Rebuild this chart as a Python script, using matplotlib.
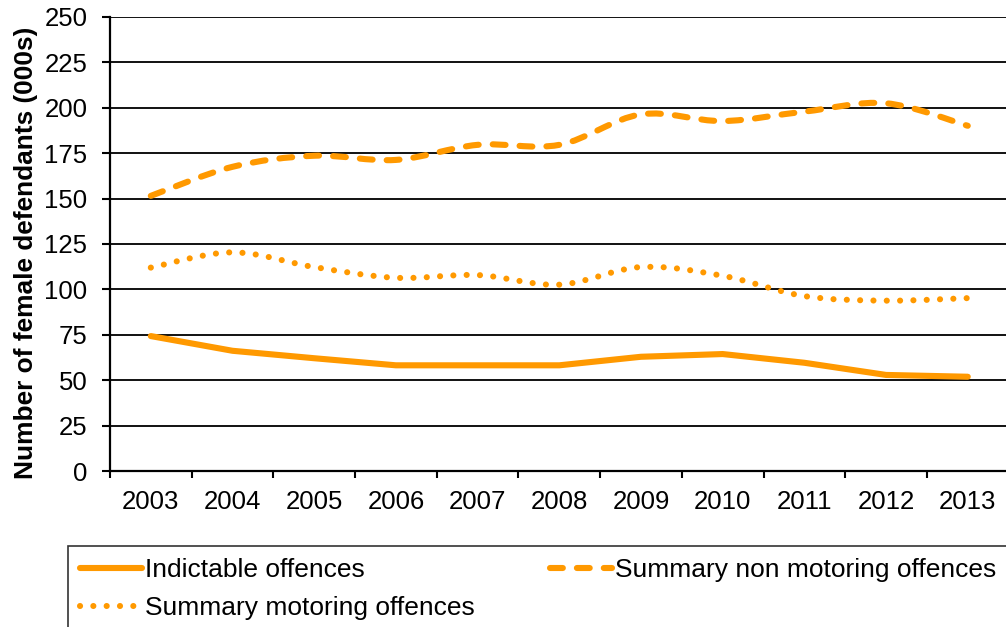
import matplotlib
matplotlib.use("Agg")
import matplotlib.pyplot as plt
import numpy as np
from matplotlib.path import Path
from matplotlib.patches import PathPatch
from matplotlib.lines import Line2D

plt.rcParams['font.family'] = ['Liberation Sans', 'DejaVu Sans']

years = ['2003', '2004', '2005', '2006', '2007', '2008', '2009', '2010', '2011', '2012', '2013']
indictable = [74.3, 66.2, 62.1, 58.2, 58.2, 58.2, 62.9, 64.4, 59.6, 52.9, 51.9]
non_motoring = [151.5, 167.5, 173.6, 171.3, 179.6, 179.6, 196.4, 192.7, 197.9, 202.5, 190.1]
motoring = [112.0, 120.4, 112.3, 106.4, 107.9, 102.6, 112.3, 107.5, 96.3, 93.8, 95.2]
yticks = [0, 25, 50, 75, 100, 125, 150, 175, 200, 225, 250]

orange = '#FF9900'
lw = 4.4


def smooth_path(xs, ys):
    # Excel-style smoothed line: cubic bezier through the points
    pts = np.column_stack([xs, ys]).astype(float)
    n = len(pts)
    verts = [pts[0]]
    codes = [Path.MOVETO]
    for i in range(n - 1):
        p0 = pts[i - 1] if i > 0 else pts[i]
        p1 = pts[i]
        p2 = pts[i + 1]
        p3 = pts[i + 2] if i + 2 < n else pts[i + 1]
        c1 = p1 + (p2 - p0) / 6.0
        c2 = p2 - (p3 - p1) / 6.0
        verts += [c1, c2, p2]
        codes += [Path.CURVE4] * 3
    return Path(verts, codes)


x = np.arange(len(years))

fig = plt.figure(figsize=(10.06, 6.27), dpi=100)
ax = fig.add_axes([0.1093, 0.2488, 0.8933, 0.7241])

for v in yticks:
    ax.axhline(v, color='#111111', lw=1.4, zorder=1)

ax.plot(x, indictable, color=orange, lw=lw, solid_capstyle='round',
        solid_joinstyle='round', zorder=3)
ax.add_patch(PathPatch(smooth_path(x, non_motoring), fill=False, edgecolor=orange,
                       lw=lw, linestyle=(0, (2.1, 2.3)), capstyle='round', zorder=3))
ax.add_patch(PathPatch(smooth_path(x, motoring), fill=False, edgecolor=orange,
                       lw=lw, linestyle=(0, (0.01, 2.17)), capstyle='round', zorder=3))

ax.set_xlim(-0.5, len(years) - 0.5)
ax.set_ylim(0, 250)
ax.set_yticks(yticks)
ax.set_xticks(x)
ax.set_xticklabels(years)
ax.set_xticks(np.arange(-0.5, len(years)), minor=True)
ax.tick_params(axis='x', which='major', length=0, pad=14, labelsize=18.5)
ax.tick_params(axis='x', which='minor', length=5, width=1.5, direction='out')
ax.tick_params(axis='y', length=5.8, width=1.5, pad=10.5, labelsize=18.5)

for s in ['top', 'right']:
    ax.spines[s].set_visible(False)
for s in ['left', 'bottom']:
    ax.spines[s].set_linewidth(1.6)
    ax.spines[s].set_zorder(4)

ax.set_ylabel('Number of female defendants (000s)', fontsize=18.9, fontweight='bold')
ax.yaxis.set_label_coords(-0.0802, 0.48)

handles = [
    Line2D([], [], color=orange, lw=lw, solid_capstyle='round'),
    Line2D([], [], color=orange, lw=lw, linestyle=(0, (0.01, 2.17)), dash_capstyle='round'),
    Line2D([], [], color=orange, lw=lw, linestyle=(0, (2.1, 2.3)), dash_capstyle='round'),
]
labels = ['Indictable offences', 'Summary motoring offences', 'Summary non motoring offences']
leg = fig.legend(handles, labels, loc='upper left', bbox_to_anchor=(68 / 1006, 1 - 546 / 627),
                 ncol=2, fontsize=19, frameon=True, fancybox=False, edgecolor='black',
                 handlelength=2.35, handletextpad=0.12, columnspacing=2.85,
                 borderpad=0.45, labelspacing=0.55, borderaxespad=0)
leg.get_frame().set_linewidth(1.2)

fig.savefig('out.png', dpi=100)
